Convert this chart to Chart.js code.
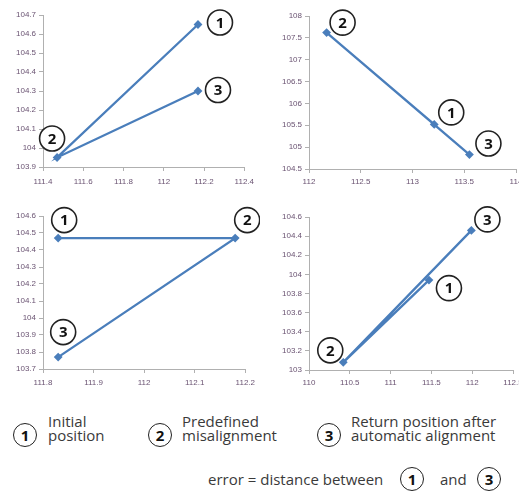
<!DOCTYPE html>
<html>
<head>
<meta charset="utf-8">
<script src="https://cdn.jsdelivr.net/npm/chart.js@4.4.0/dist/chart.umd.min.js"></script>
<style>
  html, body { margin: 0; padding: 0; background: #fff; overflow: hidden; }
  body { width: 519px; height: 495px; position: relative; font-family: 'Open Sans', Lato, sans-serif; color: #3a3a3a; }
  canvas { position: absolute; }
  .num { position: absolute; width: 22px; height: 22px; border: 1.5px solid #222; border-radius: 50%;
         text-align: center; line-height: 22px; font-weight: bold; font-size: 15px; color: #111;
         font-family: 'Open Sans', sans-serif; }
  .txt { position: absolute; font-size: 15px; line-height: 14px; white-space: nowrap; }
</style>
</head>
<body>
<canvas id="c1" width="260" height="200" style="left:0;top:0"></canvas>
<canvas id="c2" width="290" height="200" style="left:260px;top:0"></canvas>
<canvas id="c3" width="260" height="200" style="left:0;top:200px"></canvas>
<canvas id="c4" width="290" height="200" style="left:260px;top:200px"></canvas>

<div class="num" style="left:13px;top:423px">1</div>
<div class="txt" style="left:48px;top:414px">Initial<br>position</div>
<div class="num" style="left:148px;top:423px">2</div>
<div class="txt" style="left:182px;top:414px">Predefined<br>misalignment</div>
<div class="num" style="left:317px;top:423px">3</div>
<div class="txt" style="left:351px;top:414px">Return position after<br>automatic alignment</div>

<div class="txt" style="left:208px;top:472px">error = distance between</div>
<div class="num" style="left:400px;top:467px">1</div>
<div class="txt" style="left:440px;top:472px">and</div>
<div class="num" style="left:477px;top:467px">3</div>

<script>
// point order in every panel: 1 = initial, 2 = misaligned, 3 = returned
const tags = ['1', '2', '3'];

const p1X = [112.17, 111.47, 112.17];
const p1Y = [104.65, 103.95, 104.30];
const p1XTicks = [111.4, 111.6, 111.8, 112, 112.2, 112.4];
const p1YTicks = [103.9, 104, 104.1, 104.2, 104.3, 104.4, 104.5, 104.6, 104.7];

const p2X = [113.21, 112.17, 113.55];
const p2Y = [105.52, 107.62, 104.83];
const p2XTicks = [112, 112.5, 113, 113.5, 114];
const p2YTicks = [104.5, 105, 105.5, 106, 106.5, 107, 107.5, 108];

const p3X = [111.83, 112.18, 111.83];
const p3Y = [104.47, 104.47, 103.77];
const p3XTicks = [111.8, 111.9, 112, 112.1, 112.2];
const p3YTicks = [103.7, 103.8, 103.9, 104, 104.1, 104.2, 104.3, 104.4, 104.5, 104.6];

const p4X = [111.47, 110.42, 111.99];
const p4Y = [103.94, 103.08, 104.46];
const p4XTicks = [110, 110.5, 111, 111.5, 112, 112.5];
const p4YTicks = [103, 103.2, 103.4, 103.6, 103.8, 104, 104.2, 104.4, 104.6];

const BLUE = '#4a7ebb';
const AXIS = '#b0b0b0';
const TICK = '#6a5372';

// circled number next to each point (pixel offset from the point)
const circleTags = {
    id: 'tags',
    afterDraw(chart, args, opts) {
        const ctx = chart.ctx;
        const pts = chart.getDatasetMeta(0).data;
        ctx.save();
        pts.forEach((pt, i) => {
            const cx = pt.x + opts.offsets[i][0];
            const cy = pt.y + opts.offsets[i][1];
            ctx.beginPath();
            ctx.arc(cx, cy, 12.5, 0, Math.PI * 2);
            ctx.fillStyle = '#fff';
            ctx.fill();
            ctx.lineWidth = 1.6;
            ctx.strokeStyle = '#222';
            ctx.stroke();
            ctx.fillStyle = '#111';
            ctx.font = "bold 15px 'Open Sans', sans-serif";
            ctx.textAlign = 'center';
            ctx.textBaseline = 'middle';
            ctx.fillText(tags[i], cx, cy + 1);
        });
        ctx.restore();
    }
};

function axis(ticksArr, fit, pad) {
    return {
        type: 'linear',
        min: ticksArr[0],
        max: ticksArr[ticksArr.length - 1],
        afterBuildTicks: s => { s.ticks = ticksArr.map(v => ({ value: v })); },
        afterFit: fit,
        grid: { drawOnChartArea: false, tickLength: 4, color: AXIS, lineWidth: 1 },
        border: { color: AXIS, width: 1 },
        ticks: {
            callback: v => String(v),
            color: TICK,
            font: { family: "'Liberation Sans', Arial, sans-serif", size: 8 },
            padding: pad,
            autoSkip: false,
            maxRotation: 0
        }
    };
}

function makePanel(id, xs, ys, xTicks, yTicks, area, offsets) {
    new Chart(document.getElementById(id), {
        type: 'scatter',
        data: {
            datasets: [{
                data: xs.map((x, i) => ({ x: x, y: ys[i] })),
                showLine: true,
                borderColor: BLUE,
                backgroundColor: BLUE,
                borderWidth: 2.3,
                pointStyle: 'rectRot',
                pointRadius: 2.8,
                pointHoverRadius: 2.8,
                tension: 0
            }]
        },
        options: {
            responsive: false,
            animation: false,
            devicePixelRatio: 1,
            events: [],
            layout: { padding: { top: area.top, right: area.right, left: 0, bottom: 0 } },
            plugins: {
                legend: { display: false },
                tooltip: { enabled: false },
                tags: { offsets: offsets }
            },
            scales: {
                x: axis(xTicks, s => { s.height = area.xh; }, area.lp),
                y: axis(yTicks, s => { s.width = area.yw; }, 3)
            }
        },
        plugins: [circleTags]
    });
}

makePanel('c1', p1X, p1Y, p1XTicks, p1YTicks,
    { top: 15, right: 14, yw: 43, xh: 33, lp: 6 },
    [[22, -2], [-5, -19], [20, -1]]);
makePanel('c2', p2X, p2Y, p2XTicks, p2YTicks,
    { top: 16, right: 34, yw: 49, xh: 31, lp: 4 },
    [[17, -12], [16, -10], [19, -11]]);
makePanel('c3', p3X, p3Y, p3XTicks, p3YTicks,
    { top: 16, right: 13, yw: 43, xh: 31, lp: 5 },
    [[6, -18], [12, -18], [5, -25]]);
makePanel('c4', p4X, p4Y, p4XTicks, p4YTicks,
    { top: 17, right: 37, yw: 49, xh: 30, lp: 4 },
    [[20, 8], [-13, -12], [16, -11]]);
</script>
</body>
</html>
